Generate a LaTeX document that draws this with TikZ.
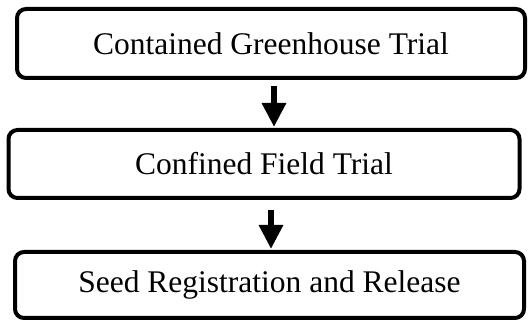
\documentclass[tikz,border=0pt]{standalone}
\usepackage{fontspec}
\setmainfont{Liberation Serif}
\usetikzlibrary{arrows.meta, positioning}

\begin{document}
\begin{tikzpicture}[x=1pt, y=1pt, font=\fontsize{31.5}{38}\selectfont]
  \tikzset{
    stage/.style={rounded corners=9pt, draw=black, line width=4pt, fill=white,
      align=center, inner sep=0pt},
    flow/.style={-{Triangle[width=23pt, length=24pt]}, line width=6.5pt,
      shorten >=1pt}
  }
  \useasboundingbox (0,0) rectangle (528,321);
  \node[stage, minimum width=508pt, minimum height=69pt] (green) at (271,277.5)
    {Contained Greenhouse Trial};
  \node[stage, minimum width=511pt, minimum height=68pt] (field) at (264,157)
    {Confined Field Trial};
  \node[stage, minimum width=509pt, minimum height=66pt] (seed) at (269.5,36)
    {Seed Registration and Release};
  % downward arrows between the stages
  \draw[flow, shorten <=6pt] ([xshift=3pt]green.south) -- ([xshift=3pt]green.south |- field.north);
  \draw[flow, shorten <=10pt] ([xshift=7pt]field.south) -- ([xshift=7pt]field.south |- seed.north);
\end{tikzpicture}
\end{document}
